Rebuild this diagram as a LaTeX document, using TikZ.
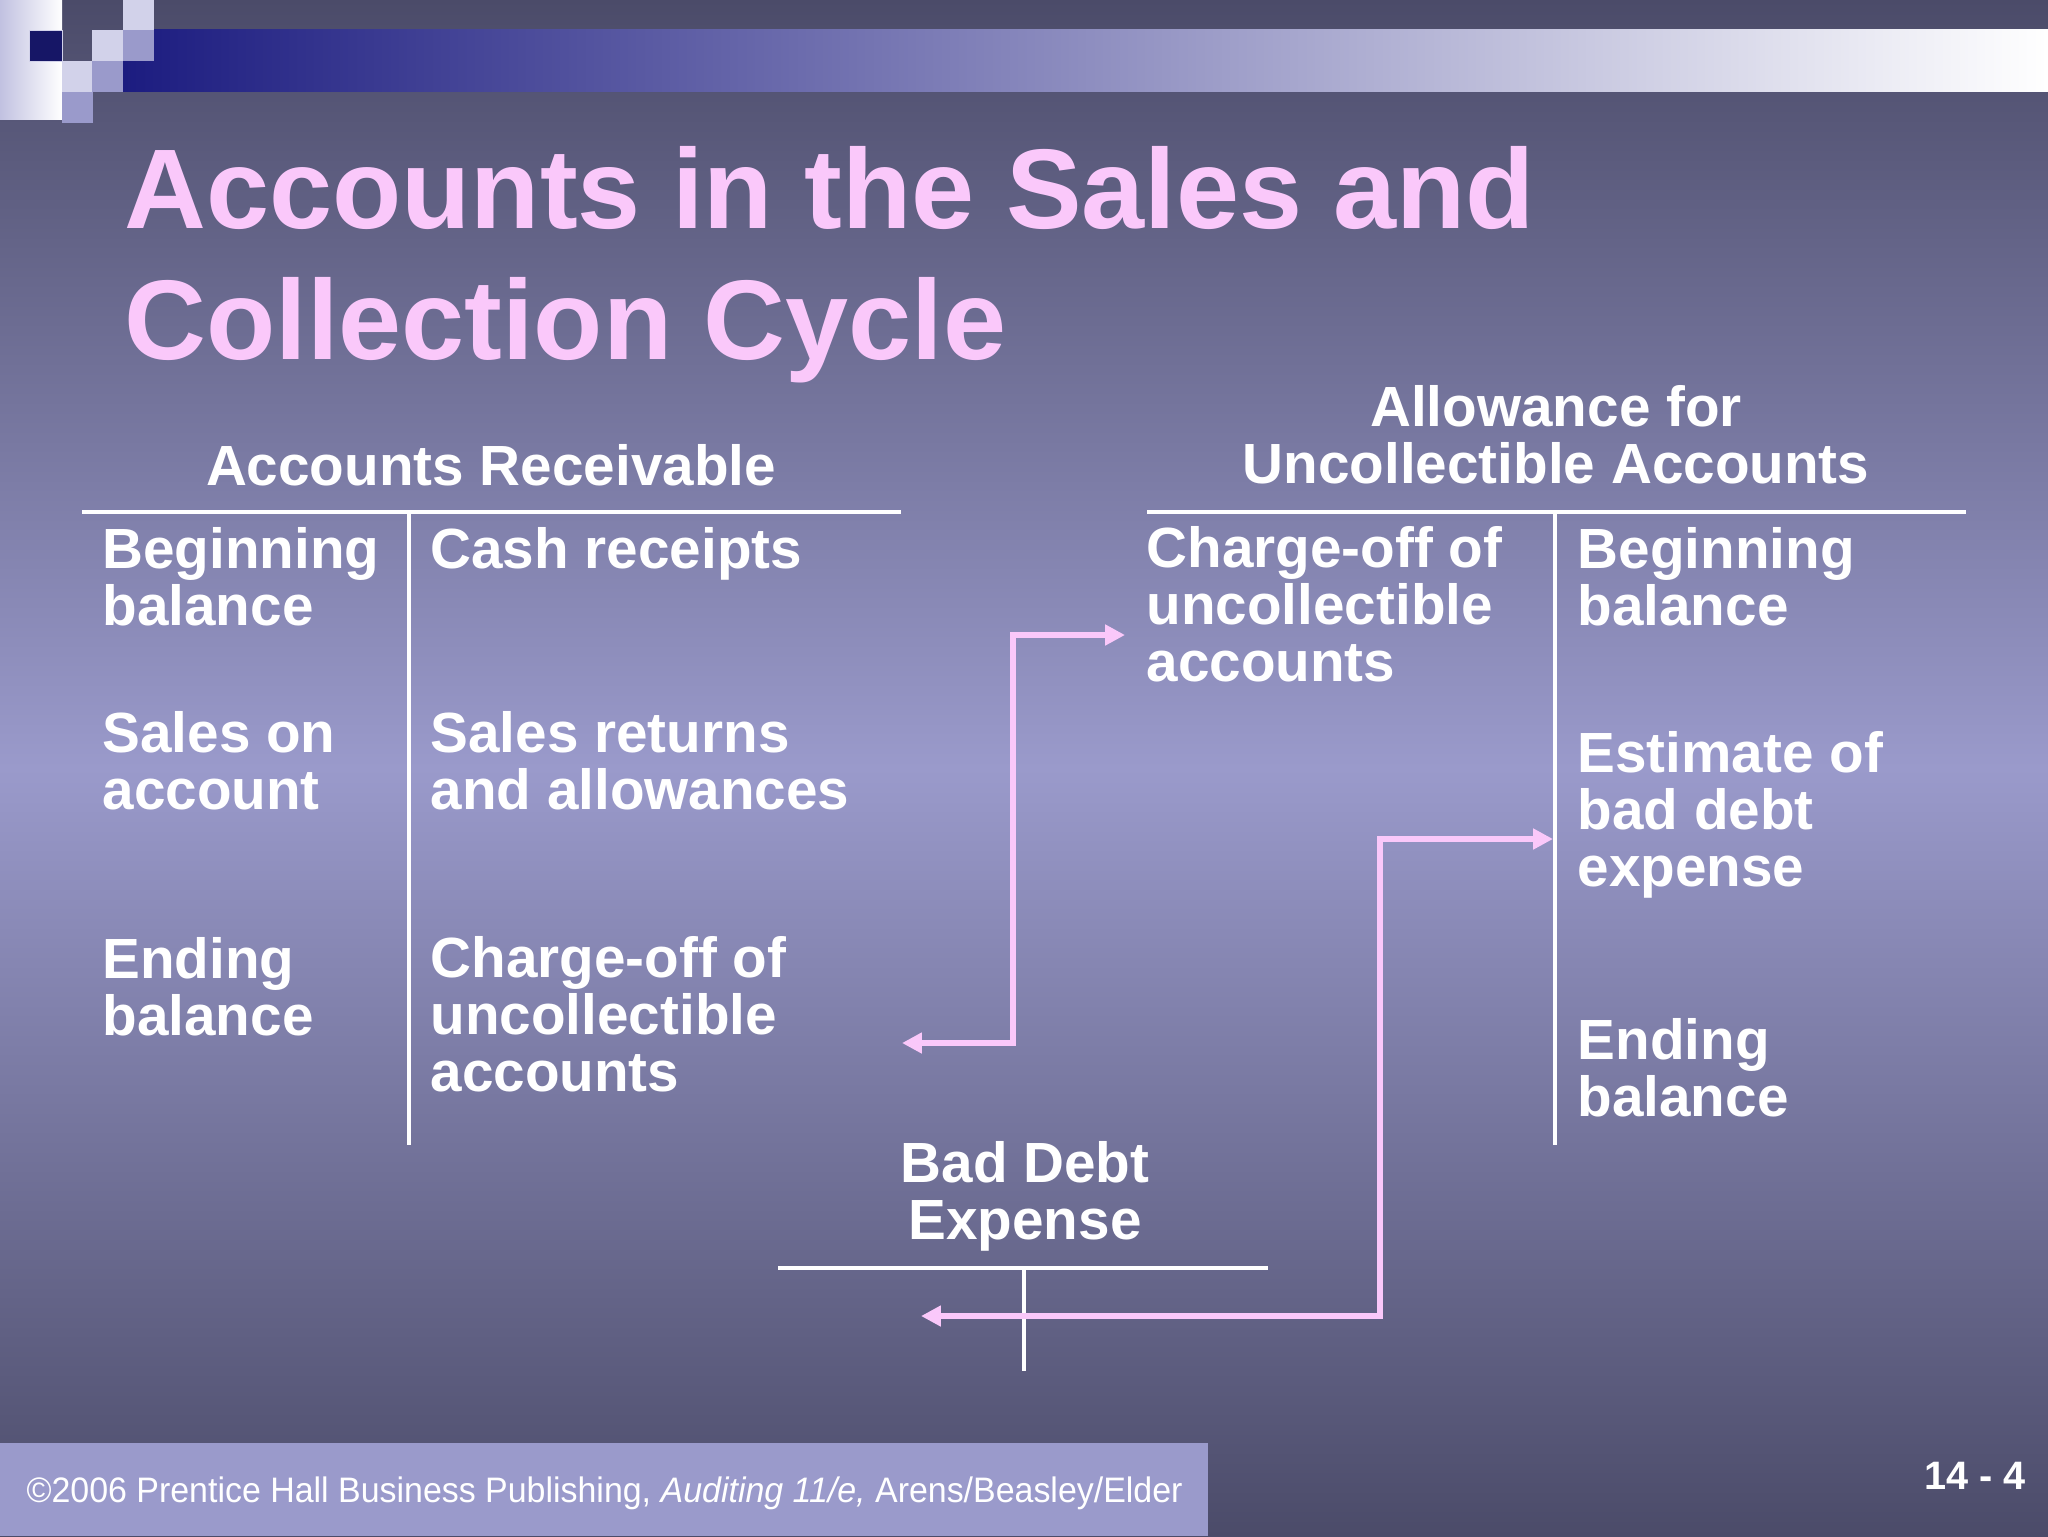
\documentclass[tikz,border=0pt]{standalone}
\usepackage{fontspec}
\setmainfont{Liberation Sans}
\usepackage{graphicx}
\usetikzlibrary{arrows.meta}
\definecolor{slate}{HTML}{4B4B69}
\definecolor{lilac}{HTML}{9A9ACB}
\definecolor{navy}{HTML}{1C1C80}
\definecolor{pale}{HTML}{D2D2EA}
\definecolor{pinkish}{HTML}{FAC8FA}

\begin{document}
\begin{tikzpicture}[x = 0.0124023cm, y = -0.0124023cm,
    rule/.style = {draw = white, line width = 1.4pt},
    flow/.style = {draw = pinkish, line width = 1.9pt,
      {Triangle[length = 7pt, width = 7pt]}-{Triangle[length = 7pt, width = 7pt]}},
    entry/.style = {anchor = base west, align = left, inner sep = 0pt, text = white,
      font = \bfseries\fontsize{20}{20}\selectfont},
    acct/.style = {entry, anchor = base, align = center}]
  \useasboundingbox (0,0) rectangle (2048,1536);
  % slide background
  \shade[top color = slate, bottom color = slate, middle color = lilac] (0,0) rectangle (2048,1536);
  \fill[lilac] (0,1443) rectangle (1208,1536);
  \shade[left color = pale!70!lilac, right color = white] (0,0) rectangle (62,120);
  \shade[left color = navy, right color = white] (123,30) rectangle (2048,92);
  \filldraw[fill = navy!80!black, draw = pale, line width = 0.3pt] (29,30) rectangle (62,61);
  \foreach \x/\y in {62/61, 92/30, 123/0}
    \fill[pale] (\x,\y) rectangle ++(31,31);
  \foreach \x/\y in {62/92, 92/61, 123/30}
    \fill[lilac] (\x,\y) rectangle ++(31,31);

  % base anchors sit on the last line of each text
  \node[anchor = base west, align = left, inner sep = 0pt, text = pinkish,
        font = \bfseries\fontsize{40}{46.2}\selectfont] (title) at (124,359)
        {Accounts in the Sales and\\Collection Cycle};

  % T-accounts
  \coordinate (arL) at (82,512);    \coordinate (arR) at (901,512);
  \coordinate (arT) at (409,512);   \coordinate (arB) at (409,1145);
  \coordinate (alL) at (1147,512);  \coordinate (alR) at (1966,512);
  \coordinate (alT) at (1555,512);  \coordinate (alB) at (1555,1145);
  \coordinate (bdL) at (778,1268);  \coordinate (bdR) at (1268,1268);
  \coordinate (bdT) at (1024,1268); \coordinate (bdB) at (1024,1371);
  \draw[rule] (arL) -- (arR) (arT) -- (arB);
  \draw[rule] (alL) -- (alR) (alT) -- (alB);
  \draw[rule] (bdL) -- (bdR) (bdT) -- (bdB);

  \node[acct] (arHead) at (491,485) {Accounts Receivable};
  \node[entry] (arBeg) at (102,625) {Beginning\\balance};
  \node[entry] (arSales) at (102,809) {Sales on\\account};
  \node[entry] (arEnd) at (102,1035) {Ending\\balance};
  \node[entry] (arCash) at (430,568) {Cash receipts};
  \node[entry] (arRet) at (430,809) {Sales returns\\and allowances};
  \node[entry] (arOff) at (430,1091) {Charge-off of\\uncollectible\\accounts};

  \node[acct] (alHead) at (1556,483) {Allowance for\\Uncollectible Accounts};
  \node[entry] (alOff) at (1146,681) {Charge-off of\\uncollectible\\accounts};
  \node[entry] (alBeg) at (1577,625) {Beginning\\balance};
  \node[entry] (alEst) at (1577,886) {Estimate of\\bad debt\\expense};
  \node[entry] (alEnd) at (1577,1116) {Ending\\balance};

  \node[acct] (bdHead) at (1025,1239) {Bad Debt\\Expense};

  % postings
  \coordinate (offEnd) at (902,1043);  \coordinate (offBend) at (1013,635);
  \coordinate (offStart) at (1125,635);
  \coordinate (estEnd) at (921,1316);  \coordinate (estBend) at (1380,839);
  \coordinate (estStart) at (1553,839);
  \draw[flow] (offEnd) -| (offBend) -- (offStart);
  \draw[flow] (estEnd) -| (estBend) -- (estStart);

  \node[anchor = base west, inner sep = 0pt, text = white,
        font = \fontsize{12.5}{14}\selectfont] (credit) at (26,1502)
        {\resizebox{408pt}{\height}{\textcopyright2006 Prentice Hall Business Publishing, \textit{Auditing 11/e,} Arens/Beasley/Elder}};
  \node[anchor = base east, inner sep = 0pt, text = white,
        font = \bfseries\fontsize{14}{16}\selectfont] (page) at (2026,1489) {14 - 4};
\end{tikzpicture}
\end{document}
